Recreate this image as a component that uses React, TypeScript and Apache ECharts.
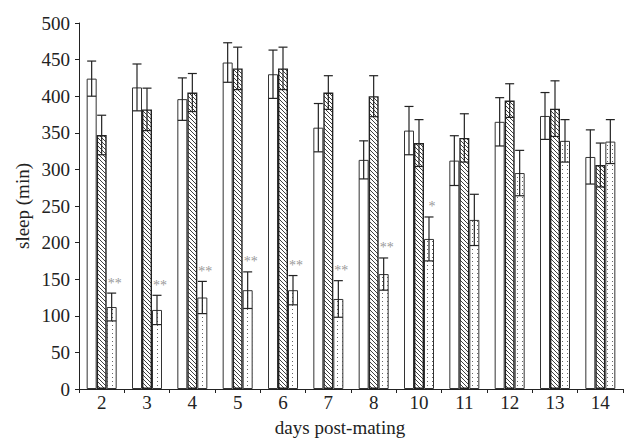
import React, { useEffect, useRef } from "react";
import * as echarts from "echarts";

const days = ["2", "3", "4", "5", "6", "7", "8", "10", "11", "12", "13", "14"];
const openValues = [424, 412, 396, 446, 430, 357, 313, 353, 312, 365, 373, 317];
const openErrors = [24, 32, 29, 27, 33, 33, 26, 33, 34, 33, 32, 37];
const hatchedValues = [347, 382, 405, 438, 438, 405, 400, 336, 343, 394, 383, 306];
const hatchedErrors = [27, 29, 26, 29, 29, 23, 28, 32, 33, 23, 38, 30];
const dottedValues = [112, 108, 125, 135, 135, 123, 157, 205, 231, 295, 339, 338];
const dottedErrors = [19, 20, 22, 25, 20, 25, 22, 30, 35, 31, 29, 30];
const dottedSignificance = ["**", "**", "**", "**", "**", "**", "**", "*", "", "", "", ""];
const yTicks = { min: 0, max: 500, interval: 50 };

const FONT = "'Liberation Serif', 'Times New Roman', serif";
const BAR_W = 10;

function hatchPattern(): HTMLCanvasElement {
  const c = document.createElement("canvas");
  const s = 4;
  c.width = s;
  c.height = s;
  const ctx = c.getContext("2d")!;
  ctx.fillStyle = "#ffffff";
  ctx.fillRect(0, 0, s, s);
  ctx.strokeStyle = "#404040";
  ctx.lineWidth = 1;
  ctx.beginPath();
  ctx.moveTo(-1, -1);
  ctx.lineTo(s + 1, s + 1);
  ctx.moveTo(-1, s - 1);
  ctx.lineTo(1, s + 1);
  ctx.moveTo(s - 1, -1);
  ctx.lineTo(s + 1, 1);
  ctx.stroke();
  return c;
}

function dotPattern(): HTMLCanvasElement {
  const c = document.createElement("canvas");
  c.width = 5;
  c.height = 4;
  const ctx = c.getContext("2d")!;
  ctx.fillStyle = "#ffffff";
  ctx.fillRect(0, 0, 5, 4);
  ctx.fillStyle = "#666666";
  ctx.fillRect(2, 1, 1, 1);
  return c;
}

function errorSeries(values: number[], errors: number[], offset: number, sig?: string[]) {
  return {
    type: "custom",
    z: 5,
    silent: true,
    data: values.map((v, i) => [i, v, errors[i]]),
    renderItem: (params: any, api: any) => {
      const i = api.value(0);
      const v = api.value(1);
      const se = api.value(2);
      const top = api.coord([i, v + se]);
      const bot = api.coord([i, v - se]);
      const x = top[0] + offset;
      const cap = 4.5;
      const st = { stroke: "#222", lineWidth: 1.2 };
      const children: any[] = [
        { type: "line", shape: { x1: x, y1: top[1], x2: x, y2: bot[1] }, style: st },
        { type: "line", shape: { x1: x - cap, y1: top[1], x2: x + cap, y2: top[1] }, style: st },
        { type: "line", shape: { x1: x - cap, y1: bot[1], x2: x + cap, y2: bot[1] }, style: st },
      ];
      const label = sig ? sig[params.dataIndex] : "";
      if (label) {
        children.push({
          type: "text",
          style: {
            text: label,
            x: x + 3,
            y: top[1] - 10,
            textAlign: "center",
            textVerticalAlign: "middle",
            fill: "#999",
            font: `14px ${FONT}`,
          },
        });
      }
      return { type: "group", children };
    },
  };
}

export default function App() {
  const ref = useRef<HTMLDivElement>(null);
  useEffect(() => {
    document.body.style.margin = "0";
    const chart = echarts.init(ref.current!, null, { renderer: "svg" });
    const axisStyle = { color: "#222", width: 1 };
    chart.setOption({
      animation: false,
      backgroundColor: "#fff",
      grid: { left: 79, right: 2, top: 23, bottom: 50 },
      xAxis: {
        type: "category",
        data: days,
        axisLine: { lineStyle: axisStyle },
        axisTick: { show: true, length: 4, lineStyle: axisStyle },
        axisLabel: { color: "#222", fontFamily: FONT, fontSize: 19, margin: 4 },
      },
      yAxis: {
        type: "value",
        min: yTicks.min,
        max: yTicks.max,
        interval: yTicks.interval,
        splitLine: { show: false },
        axisLine: { show: true, lineStyle: axisStyle },
        axisTick: { show: true, length: 4, lineStyle: axisStyle },
        axisLabel: { color: "#222", fontFamily: FONT, fontSize: 19, margin: 9 },
      },
      graphic: [
        {
          type: "text",
          x: 22,
          y: 206,
          rotation: Math.PI / 2,
          style: {
            text: "sleep (min)",
            textAlign: "center",
            textVerticalAlign: "middle",
            fill: "#222",
            font: `19px ${FONT}`,
          },
        },
        {
          type: "text",
          x: 340,
          y: 427,
          style: {
            text: "days post-mating",
            textAlign: "center",
            textVerticalAlign: "middle",
            fill: "#222",
            font: `19px ${FONT}`,
          },
        },
      ],
      series: [
        {
          type: "bar",
          data: openValues,
          barWidth: BAR_W,
          barGap: "0%",
          itemStyle: { color: "#fff", borderColor: "#333", borderWidth: 1 },
        },
        {
          type: "bar",
          data: hatchedValues,
          barWidth: BAR_W,
          barGap: "0%",
          itemStyle: {
            color: { image: hatchPattern(), repeat: "repeat" },
            borderColor: "#222",
            borderWidth: 1.4,
          },
        },
        {
          type: "bar",
          data: dottedValues,
          barWidth: BAR_W,
          barGap: "0%",
          itemStyle: {
            color: { image: dotPattern(), repeat: "repeat" },
            borderColor: "#333",
            borderWidth: 1,
          },
        },
        errorSeries(openValues, openErrors, -BAR_W),
        errorSeries(hatchedValues, hatchedErrors, 0),
        errorSeries(dottedValues, dottedErrors, BAR_W, dottedSignificance),
      ],
    });
    return () => chart.dispose();
  }, []);
  return <div ref={ref} style={{ width: 625, height: 439 }} />;
}
